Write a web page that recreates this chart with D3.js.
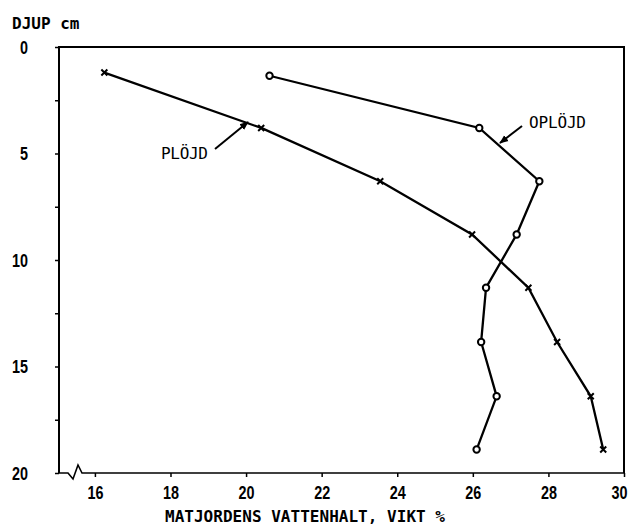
<!DOCTYPE html>
<html>
<head>
<meta charset="utf-8">
<script src="https://cdn.jsdelivr.net/npm/d3@7"></script>
<style>
  body { margin: 0; background: #fff; }
  .tick text { font-family: "Liberation Sans", sans-serif; font-weight: bold; font-size: 18px; fill: #000; }
  .lbl { font-family: "DejaVu Sans Mono", monospace; fill: #000; }
</style>
</head>
<body>
<div id="chart"></div>
<script>
(function(){

  let width = 632;
  let height = 528;

  // depth (cm) of each sample
  let depths = [1.2, 3.8, 6.3, 8.8, 11.3, 13.85, 16.4, 18.9];
  let oplojdDepths = [1.35, 3.8, 6.3, 8.8, 11.3, 13.85, 16.4, 18.9];
  // vattenhalt, vikt %
  let plojd   = [16.25, 20.4, 23.55, 25.98, 27.47, 28.23, 29.12, 29.45];
  let oplojd  = [20.62, 26.17, 27.76, 27.16, 26.35, 26.22, 26.63, 26.1];

  let xTicks = [16, 18, 20, 22, 24, 26, 28, 30];
  let yTicks = [0, 2.5, 5, 7.5, 10, 12.5, 15, 17.5, 20];

  let svg = d3.select('#chart')
            .append("svg")
            .attr("width", width)
            .attr("height", height);

  let x = d3.scaleLinear().domain([15.05, 30]).range([59, 624]);
  let y = d3.scaleLinear().domain([0, 20]).range([47, 473]);

  // arrow head
  svg.append("defs").append("marker")
    .attr("id", "arr")
    .attr("viewBox", "0 0 10 10")
    .attr("refX", 9).attr("refY", 5)
    .attr("markerWidth", 9).attr("markerHeight", 9)
    .attr("markerUnits", "userSpaceOnUse")
    .attr("orient", "auto")
    .append("path").attr("d", "M0,1 L10,5 L0,9 Z").attr("fill", "#000");

  // squeeze the digits so they look like the narrow plotter font
  function narrow(sel){
    sel.each(function(){
      let t = d3.select(this).text();
      if (t.length) {
        d3.select(this).attr("textLength", t.length * 8).attr("lengthAdjust", "spacingAndGlyphs");
      }
    });
  }

  // y axis, labels only on the 5's
  let yAxis = d3.axisLeft(y).tickValues(yTicks).tickSize(4).tickPadding(27)
      .tickFormat(function(d){ return d % 5 === 0 ? d : ""; });
  let gy = svg.append("g").attr("transform", "translate(59,0)").call(yAxis);
  gy.select(".domain").remove();
  gy.selectAll("line").attr("stroke", "#000").attr("stroke-width", 1.5);
  gy.selectAll("text").attr("dy", "0.36em").call(narrow);

  let xAxis = d3.axisBottom(x).tickValues(xTicks).tickSize(4).tickPadding(9);
  let gx = svg.append("g").attr("transform", "translate(0,473)").call(xAxis);
  gx.select(".domain").remove();
  gx.selectAll("line").attr("stroke", "#000").attr("stroke-width", 1.5);
  gx.selectAll("text").call(narrow);
  // last label sits right at the page edge
  gx.selectAll("text").filter(function(d){ return d === 30; }).attr("dx", -5);

  // frame: left axis, top line, right line
  let x0 = x.range()[0], x1 = x.range()[1];
  let y0 = y.range()[0], y1 = y.range()[1];
  svg.append("path")
    .attr("d", "M" + x0 + "," + y1 + " L" + x0 + "," + y0 + " L" + x1 + "," + y0 + " L" + x1 + "," + y1)
    .attr("fill", "none").attr("stroke", "#000").attr("stroke-width", 2);
  // bottom axis with break
  svg.append("path")
    .attr("d", "M" + x0 + "," + y1 + " L" + (x0 + 9) + "," + y1 + " L" + (x0 + 14) + "," + (y1 + 6) +
               " L" + (x0 + 19) + "," + (y1 - 8) + " L" + (x0 + 23) + "," + y1 + " L" + x1 + "," + y1)
    .attr("fill", "none").attr("stroke", "#000").attr("stroke-width", 1.6);

  let line = d3.line().x(function(d){ return x(d[0]); }).y(function(d){ return y(d[1]); });

  let pData = d3.zip(plojd, depths);
  let oData = d3.zip(oplojd, oplojdDepths);

  svg.append("path").datum(pData).attr("d", line)
    .attr("fill", "none").attr("stroke", "#000").attr("stroke-width", 2.3);
  svg.append("path").datum(oData).attr("d", line)
    .attr("fill", "none").attr("stroke", "#000").attr("stroke-width", 2.3);

  // x markers
  svg.selectAll(".xm").data(pData).enter().append("path")
    .attr("class", "xm")
    .attr("d", function(d){
      let cx = x(d[0]), cy = y(d[1]), s = 3;
      return "M" + (cx - s) + "," + (cy - s) + " L" + (cx + s) + "," + (cy + s) +
             " M" + (cx - s) + "," + (cy + s) + " L" + (cx + s) + "," + (cy - s);
    })
    .attr("stroke", "#000").attr("stroke-width", 2);

  // o markers
  svg.selectAll(".om").data(oData).enter().append("circle")
    .attr("class", "om")
    .attr("cx", function(d){ return x(d[0]); })
    .attr("cy", function(d){ return y(d[1]); })
    .attr("r", 3.2)
    .attr("fill", "#fff").attr("stroke", "#000").attr("stroke-width", 2);

  // labels
  svg.append("text").attr("class", "lbl").attr("x", 12).attr("y", 29)
    .attr("font-size", 16).attr("font-weight", "bold").text("DJUP cm");
  svg.append("text").attr("class", "lbl").attr("x", 305).attr("y", 522)
    .attr("text-anchor", "middle").attr("font-size", 16).attr("font-weight", "bold")
    .attr("textLength", 280).text("MATJORDENS VATTENHALT, VIKT %");

  svg.append("text").attr("class", "lbl").attr("x", 161).attr("y", 159)
    .attr("font-size", 16).attr("textLength", 47).text("PLÖJD");
  svg.append("text").attr("class", "lbl").attr("x", 529).attr("y", 128)
    .attr("font-size", 16).attr("textLength", 57).text("OPLÖJD");

  // arrows pointing at the lines
  svg.append("line")
    .attr("x1", 215).attr("y1", 149).attr("x2", 248).attr("y2", 122)
    .attr("stroke", "#000").attr("stroke-width", 2).attr("marker-end", "url(#arr)");
  svg.append("line")
    .attr("x1", 522).attr("y1", 126).attr("x2", 500).attr("y2", 143)
    .attr("stroke", "#000").attr("stroke-width", 2).attr("marker-end", "url(#arr)");

})();
</script>
</body>
</html>
